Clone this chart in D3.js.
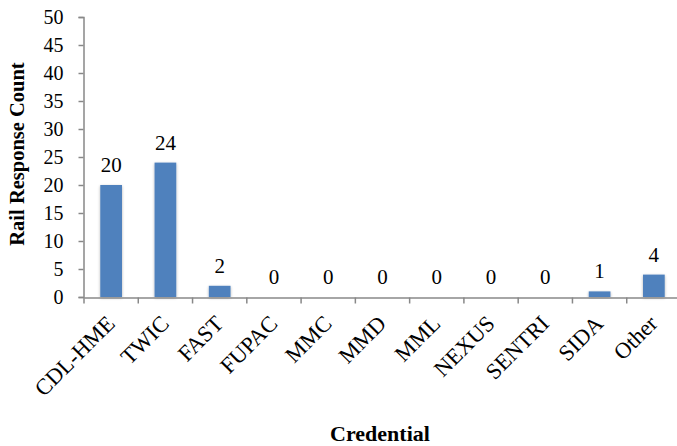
<!DOCTYPE html>
<html><head><meta charset="utf-8">
<script src="https://cdn.jsdelivr.net/npm/d3@7/dist/d3.min.js"></script>
<style>body{margin:0;background:#fff}svg{display:block}</style>
</head><body>
<script>
const categories = ["CDL-HME","TWIC","FAST","FUPAC","MMC","MMD","MML","NEXUS","SENTRI","SIDA","Other"];
const counts = [20,24,2,0,0,0,0,0,0,1,4];
const yTicks = [0,5,10,15,20,25,30,35,40,45,50];
const yTitle = "Rail Response Count";
const xTitle = "Credential";

const W = 677, H = 446;
const svg = d3.select("body").append("svg").attr("width", W).attr("height", H);
const font = "'Liberation Serif','Times New Roman',serif";
const axisColor = "#888";

const defs = svg.append("defs");
const f = defs.append("filter").attr("id","sh").attr("x","-30%").attr("y","-30%").attr("width","160%").attr("height","160%");
f.append("feGaussianBlur").attr("in","SourceAlpha").attr("stdDeviation",1.5).attr("result","b");
f.append("feOffset").attr("in","b").attr("dx",0).attr("dy",1).attr("result","o");
f.append("feComponentTransfer").attr("in","o").attr("result","o2").append("feFuncA").attr("type","linear").attr("slope",0.3);
const m = f.append("feMerge"); m.append("feMergeNode").attr("in","o2"); m.append("feMergeNode").attr("in","SourceGraphic");

const x = d3.scaleBand().domain(categories).range([84, 681]).paddingInner(0).paddingOuter(0);
const y = d3.scaleLinear().domain([0, 50]).range([297, 17]);

const bw = x.bandwidth() * 0.4;
svg.append("g").selectAll("rect").data(categories).join("rect")
  .attr("x", (d) => x(d) + x.bandwidth()/2 - bw/2)
  .attr("y", (d,i) => y(counts[i]))
  .attr("width", bw)
  .attr("height", (d,i) => y(0) - y(counts[i]))
  .attr("fill", "#4F81BD")
  .attr("filter","url(#sh)");

svg.append("g").selectAll("text").data(categories).join("text")
  .attr("x", (d) => x(d) + x.bandwidth()/2)
  .attr("y", (d,i) => y(counts[i]) - 13)
  .attr("text-anchor","middle")
  .attr("font-family", font).attr("font-size", 21).attr("fill","#000")
  .text((d,i) => counts[i]);

// y axis
const ya = svg.append("g").attr("transform","translate(83.5,0)")
  .call(d3.axisLeft(y).tickValues(yTicks).tickSize(5).tickPadding(15).tickFormat(d3.format("d")));
ya.select(".domain").attr("stroke", axisColor).attr("stroke-width",1.5);
ya.selectAll(".tick line").attr("stroke", axisColor).attr("stroke-width",1.5);
ya.selectAll(".tick text").attr("font-family", font).attr("font-size", 20).attr("fill","#000");

// x axis
const xa = svg.append("g").attr("transform","translate(0,297.5)")
  .call(d3.axisBottom(x).tickSize(0).tickFormat(""));
xa.select(".domain").attr("stroke", axisColor).attr("stroke-width",1.5);
xa.selectAll(".tick").remove();
const bounds = categories.map((d) => x(d)).concat([x(categories[categories.length-1]) + x.bandwidth()]);
xa.selectAll("line.tk").data(bounds).join("line").attr("class","tk")
  .attr("x1", (d) => d).attr("x2", (d) => d).attr("y1", 0).attr("y2", 6)
  .attr("stroke", axisColor).attr("stroke-width",1.5);

svg.append("g").selectAll("text").data(categories).join("text")
  .attr("transform", (d) => `translate(${x(d) + x.bandwidth()/2 + 5},${325}) rotate(-45)`)
  .attr("text-anchor","end")
  .attr("font-family", font).attr("font-size", 22.5).attr("fill","#000")
  .text((d) => d);

svg.append("text").attr("x", 380).attr("y", 441).attr("text-anchor","middle")
  .attr("font-family", font).attr("font-size", 22).attr("font-weight","bold").text(xTitle);

svg.append("text").attr("transform","translate(24,154) rotate(-90)").attr("text-anchor","middle")
  .attr("font-family", font).attr("font-size", 20.5).attr("font-weight","bold").text(yTitle);
</script>
</body></html>
